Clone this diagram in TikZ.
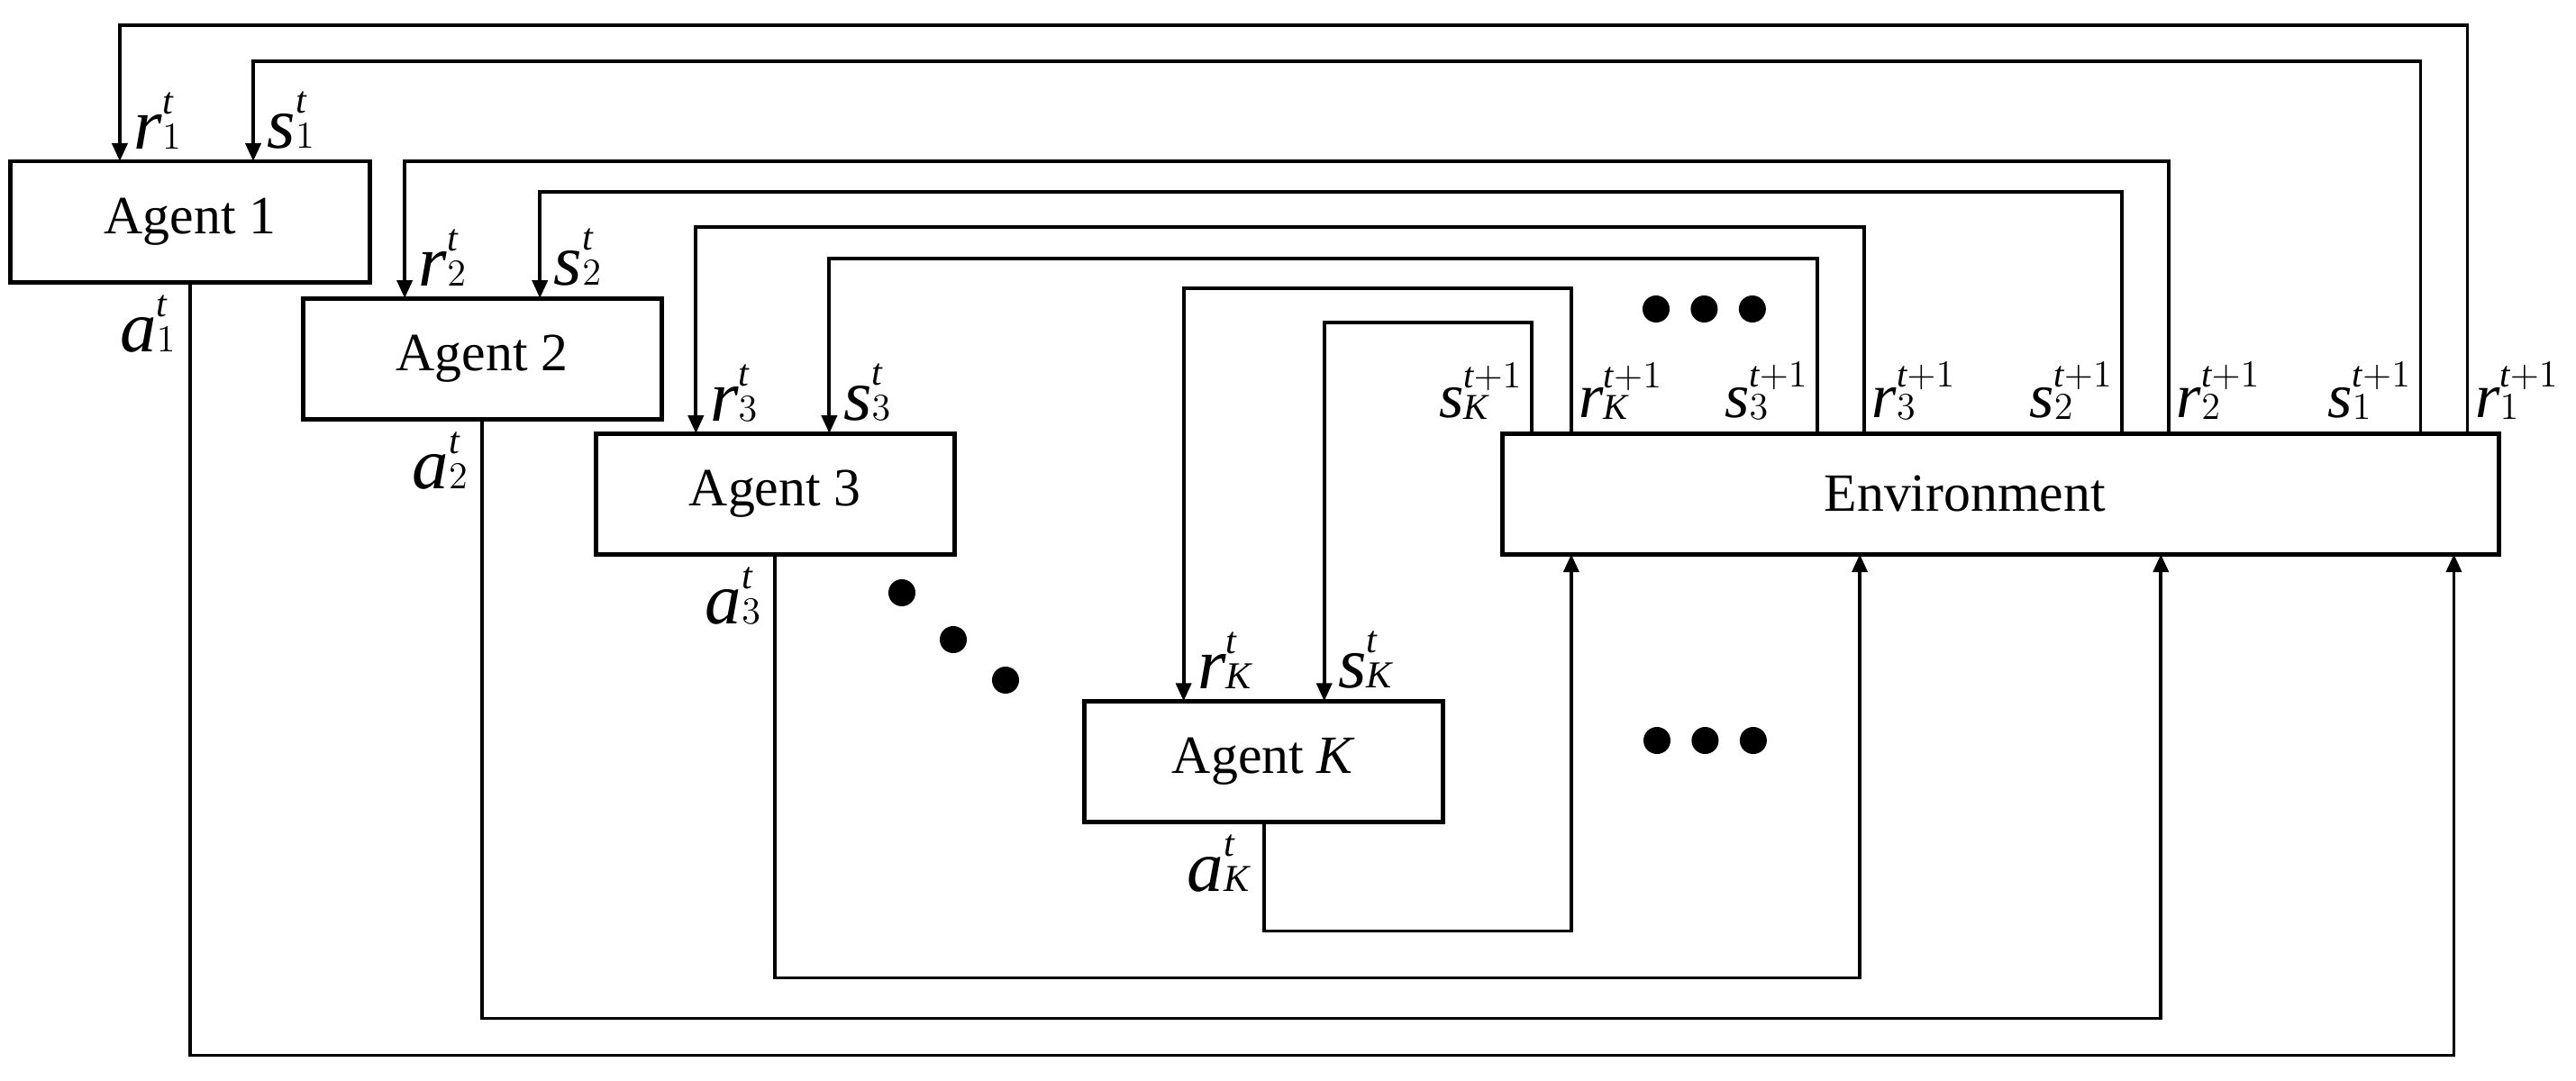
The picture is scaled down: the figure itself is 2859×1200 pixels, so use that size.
\documentclass[tikz,border=0pt]{standalone}
\usepackage{fontspec}
\setmainfont{Liberation Serif}
\usepackage{tikz}
\usetikzlibrary{positioning, arrows.meta}
\DeclareMathSizes{23}{23}{12}{9}
\DeclareMathSizes{20}{20}{11.5}{9}
\newcommand{\symlab}[3]{$\fontdimen14\textfont2=0.48em\fontdimen15\textfont2=0.48em\fontdimen17\textfont2=0pt\mathit{#1}_{#2}^{#3}$}

\begin{document}
\begin{tikzpicture}
[
x = 0.01cm, y = -0.01cm,
agent-a/.style={draw, line width = 1.4pt, minimum width = 3.98cm, minimum height = 1.34cm, inner sep = 0pt, outer sep = 0pt, font = \fontsize{17}{20}\selectfont},
link-a/.style={line width = 1.1pt, -{Triangle[length = 0.2cm, width = 0.17cm]}},
text-t/.style={black, inner sep = 0pt, font = \fontsize{23}{26}\selectfont},
text-n/.style={black, inner sep = 0pt, font = \fontsize{20}{23}\selectfont},
dot-a/.style={circle, fill, inner sep = 0pt, minimum size = 0.3cm}
]
\useasboundingbox (0,0) rectangle (2859,1200);

\node (agent-1)    [agent-a]                                               at (211,246) {Agent 1};
\node (agent-2)    [agent-a, below right = 0.18cm and -0.74cm of agent-1]              {Agent 2};
\node (agent-3)    [agent-a, below right = 0.16cm and -0.73cm of agent-2]              {Agent 3};
\node (agent-K)    [agent-a, below right = 1.63cm and 1.44cm of agent-3]               {Agent \textit{K}};
\node (env)        [agent-a, minimum width = 11.05cm, right = 6.08cm of agent-3]       {Environment\hspace*{0.8cm}};

\coordinate (in-r-1)  at ([xshift = 1.21cm]agent-1.north west);
\coordinate (in-s-1)  at ([xshift = 2.69cm]agent-1.north west);
\coordinate (in-r-2)  at ([xshift = 1.13cm]agent-2.north west);
\coordinate (in-s-2)  at ([xshift = 2.63cm]agent-2.north west);
\coordinate (in-r-3)  at ([xshift = 1.11cm]agent-3.north west);
\coordinate (in-s-3)  at ([xshift = 2.59cm]agent-3.north west);
\coordinate (in-r-K)  at ([xshift = 1.10cm]agent-K.north west);
\coordinate (in-s-K)  at ([xshift = 2.66cm]agent-K.north west);

\coordinate (env-s-K) at ([xshift = 0.32cm]env.north west);
\coordinate (env-r-K) at ([xshift = 0.76cm]env.north west);
\coordinate (env-s-3) at ([xshift = 3.49cm]env.north west);
\coordinate (env-r-3) at ([xshift = 4.01cm]env.north west);
\coordinate (env-s-2) at ([xshift = 6.87cm]env.north west);
\coordinate (env-r-2) at ([xshift = 7.39cm]env.north west);
\coordinate (env-s-1) at ([xshift = 10.18cm]env.north west);
\coordinate (env-r-1) at ([xshift = 10.70cm]env.north west);

\coordinate (env-a-K) at ([xshift = 0.76cm]env.south west);
\coordinate (env-a-3) at ([xshift = 3.96cm]env.south west);
\coordinate (env-a-2) at ([xshift = 7.30cm]env.south west);
\coordinate (env-a-1) at ([xshift = 10.55cm]env.south west);

\draw[link-a] (env-r-1) -- ++(0cm,4.53cm) -| (in-r-1);
\draw[link-a] (env-s-1) -- ++(0cm,4.13cm) -| (in-s-1);
\draw[link-a] (env-r-2) -- ++(0cm,3.02cm) -| (in-r-2);
\draw[link-a] (env-s-2) -- ++(0cm,2.68cm) -| (in-s-2);
\draw[link-a] (env-r-3) -- ++(0cm,2.29cm) -| (in-r-3);
\draw[link-a] (env-s-3) -- ++(0cm,1.94cm) -| (in-s-3);
\draw[link-a] (env-r-K) -- ++(0cm,1.61cm) -| (in-r-K);
\draw[link-a] (env-s-K) -- ++(0cm,1.23cm) -| (in-s-K);

\draw[link-a] (agent-1.south) -- ++(0cm,-8.58cm) -| (env-a-1);
\draw[link-a] (agent-2.south) -- ++(0cm,-6.65cm) -| (env-a-2);
\draw[link-a] (agent-3.south) -- ++(0cm,-4.70cm) -| (env-a-3);
\draw[link-a] (agent-K.south) -- ++(0cm,-1.21cm) -| (env-a-K);

\node (lab-r-1)    [text-t, above right = 0.13cm and 0.15cm of in-r-1]     {\symlab{r}{1}{\mathit{t}}};
\node (lab-s-1)    [text-t, above right = 0.13cm and 0.15cm of in-s-1]     {\symlab{s}{1}{\mathit{t}}};
\node (lab-r-2)    [text-t, above right = 0.13cm and 0.15cm of in-r-2]     {\symlab{r}{2}{\mathit{t}}};
\node (lab-s-2)    [text-t, above right = 0.13cm and 0.15cm of in-s-2]     {\symlab{s}{2}{\mathit{t}}};
\node (lab-r-3)    [text-t, above right = 0.13cm and 0.15cm of in-r-3]     {\symlab{r}{3}{\mathit{t}}};
\node (lab-s-3)    [text-t, above right = 0.13cm and 0.15cm of in-s-3]     {\symlab{s}{3}{\mathit{t}}};
\node (lab-r-K)    [text-t, above right = 0.13cm and 0.15cm of in-r-K]     {\symlab{r}{\mathit{K}}{\mathit{t}}};
\node (lab-s-K)    [text-t, above right = 0.13cm and 0.15cm of in-s-K]     {\symlab{s}{\mathit{K}}{\mathit{t}}};

\node (lab-a-1)    [text-t, below left = 0.14cm and 0.14cm of agent-1.south] {\symlab{a}{1}{\mathit{t}}};
\node (lab-a-2)    [text-t, below left = 0.14cm and 0.14cm of agent-2.south] {\symlab{a}{2}{\mathit{t}}};
\node (lab-a-3)    [text-t, below left = 0.14cm and 0.14cm of agent-3.south] {\symlab{a}{3}{\mathit{t}}};
\node (lab-a-K)    [text-t, below left = 0.14cm and 0.14cm of agent-K.south] {\symlab{a}{\mathit{K}}{\mathit{t}}};

\node (lab-sn-K)   [text-n, above left  = 0.15cm and 0.09cm of env-s-K]    {\symlab{s}{\mathit{K}}{\mathit{t}+1}};
\node (lab-rn-K)   [text-n, above right = 0.15cm and 0.08cm of env-r-K]    {\symlab{r}{\mathit{K}}{\mathit{t}+1}};
\node (lab-sn-3)   [text-n, above left  = 0.15cm and 0.09cm of env-s-3]    {\symlab{s}{3}{\mathit{t}+1}};
\node (lab-rn-3)   [text-n, above right = 0.15cm and 0.08cm of env-r-3]    {\symlab{r}{3}{\mathit{t}+1}};
\node (lab-sn-2)   [text-n, above left  = 0.15cm and 0.09cm of env-s-2]    {\symlab{s}{2}{\mathit{t}+1}};
\node (lab-rn-2)   [text-n, above right = 0.15cm and 0.08cm of env-r-2]    {\symlab{r}{2}{\mathit{t}+1}};
\node (lab-sn-1)   [text-n, above left  = 0.15cm and 0.09cm of env-s-1]    {\symlab{s}{1}{\mathit{t}+1}};
\node (lab-rn-1)   [text-n, above right = 0.15cm and 0.08cm of env-r-1]    {\symlab{r}{1}{\mathit{t}+1}};

\node (dots-d-1)   [dot-a]                               at (1001,658) {};
\node (dots-d-2)   [dot-a]                               at (1058,710) {};
\node (dots-d-3)   [dot-a]                               at (1116,755) {};
\node (dots-t-1)   [dot-a]                               at (1838,343) {};
\node (dots-t-2)   [dot-a, right = 0.22cm of dots-t-1]                 {};
\node (dots-t-3)   [dot-a, right = 0.22cm of dots-t-2]                 {};
\node (dots-b-1)   [dot-a]                               at (1839,822) {};
\node (dots-b-2)   [dot-a, right = 0.22cm of dots-b-1]                 {};
\node (dots-b-3)   [dot-a, right = 0.22cm of dots-b-2]                 {};
\end{tikzpicture}
\end{document}
